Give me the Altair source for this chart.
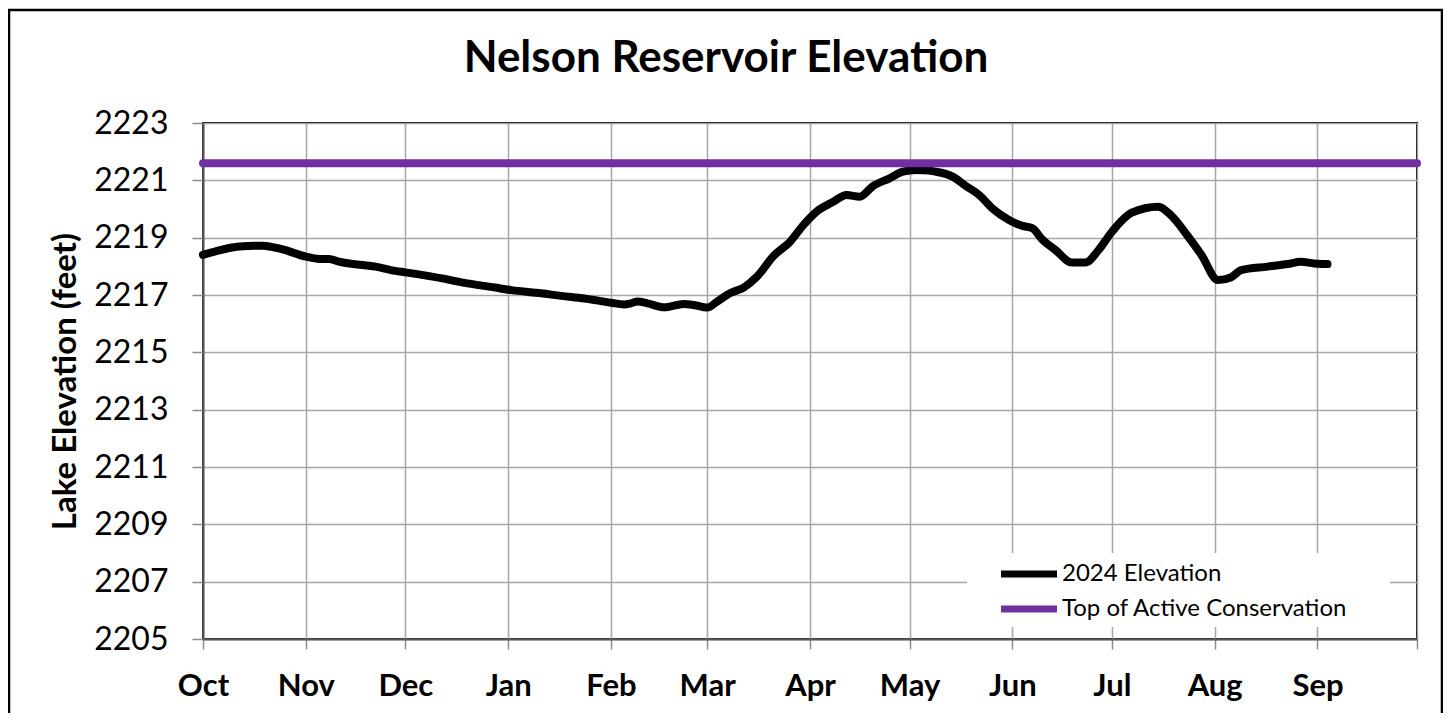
import altair as alt
import pandas as pd

# ---------------- data ----------------
title_text = "Nelson Reservoir Elevation"
y_title = "Lake Elevation (feet)"
series_names = ["2024 Elevation", "Top of Active Conservation"]
series_colors = ["#000000", "#7030A0"]

month_starts = ["2023-10-01", "2023-11-01", "2023-12-01", "2024-01-01", "2024-02-01",
                "2024-03-01", "2024-04-01", "2024-05-01", "2024-06-01", "2024-07-01",
                "2024-08-01", "2024-09-01", "2024-10-01"]
month_labels = ["Oct", "Nov", "Dec", "Jan", "Feb", "Mar", "Apr", "May", "Jun", "Jul",
                "Aug", "Sep", ""]
y_ticks = [2205, 2207, 2209, 2211, 2213, 2215, 2217, 2219, 2221, 2223]

obs_dates = ["2023-10-01", "2023-10-05", "2023-10-12", "2023-10-19", "2023-10-25",
             "2023-11-01", "2023-11-05", "2023-11-08", "2023-11-11", "2023-11-22",
             "2023-11-28", "2023-12-01", "2023-12-13", "2023-12-18", "2023-12-28",
             "2024-01-02", "2024-01-11", "2024-01-17", "2024-01-24", "2024-02-01",
             "2024-02-05", "2024-02-07", "2024-02-09", "2024-02-12", "2024-02-17",
             "2024-02-23", "2024-02-26", "2024-03-01", "2024-03-04", "2024-03-08",
             "2024-03-12", "2024-03-16", "2024-03-21", "2024-03-26", "2024-03-30",
             "2024-04-03", "2024-04-08", "2024-04-12", "2024-04-16", "2024-04-20",
             "2024-04-25", "2024-04-29", "2024-05-03", "2024-05-07", "2024-05-08",
             "2024-05-14", "2024-05-18", "2024-05-22", "2024-05-26", "2024-05-31",
             "2024-06-04", "2024-06-07", "2024-06-10", "2024-06-14", "2024-06-19",
             "2024-06-23", "2024-06-27", "2024-07-01", "2024-07-07", "2024-07-15",
             "2024-07-19", "2024-07-24", "2024-07-28", "2024-08-02", "2024-08-06",
             "2024-08-09", "2024-08-17", "2024-08-23", "2024-08-27", "2024-08-31",
             "2024-09-04"]
obs_elev = [2218.40, 2218.53, 2218.69, 2218.72, 2218.59,
            2218.34, 2218.26, 2218.26, 2218.16, 2217.99,
            2217.84, 2217.79, 2217.56, 2217.44, 2217.26,
            2217.17, 2217.06, 2216.97, 2216.88, 2216.73,
            2216.67, 2216.71, 2216.77, 2216.71, 2216.57,
            2216.69, 2216.65, 2216.56, 2216.77, 2217.07,
            2217.26, 2217.64, 2218.36, 2218.86, 2219.44,
            2219.91, 2220.25, 2220.49, 2220.43, 2220.80,
            2221.07, 2221.30, 2221.36, 2221.34, 2221.32,
            2221.13, 2220.80, 2220.49, 2220.02, 2219.62,
            2219.41, 2219.33, 2218.94, 2218.57, 2218.13,
            2218.13, 2218.57, 2219.20, 2219.87, 2220.08,
            2219.76, 2219.04, 2218.40, 2217.52, 2217.62,
            2217.87, 2217.99, 2218.08, 2218.16, 2218.10,
            2218.08]
top_conservation = 2221.6

# ---------------- build tables ----------------
start = pd.Timestamp(month_starts[0])
month_days = [int((pd.Timestamp(d) - start).days) for d in month_starts]

obs = pd.DataFrame({
    "day": [(pd.Timestamp(d) - start).days for d in obs_dates],
    "elev": obs_elev,
    "series": series_names[0],
})
cons = pd.DataFrame({
    "day": [month_days[0], month_days[-1]],
    "elev": [top_conservation, top_conservation],
    "series": series_names[1],
})
df = pd.concat([obs, cons], ignore_index=True)

label_expr = "{}[indexof({}, datum.value)]".format(
    "[" + ",".join("'" + m + "'" for m in month_labels) + "]",
    "[" + ",".join(str(d) for d in month_days) + "]",
)

FONT = "Lato"
W, H = 1214, 516

x_enc = alt.X(
    "day:Q",
    scale=alt.Scale(domain=[month_days[0], month_days[-1]], nice=False, zero=False),
    axis=alt.Axis(
        values=month_days, labelExpr=label_expr, title=None,
        labelFont=FONT, labelFontSize=31, labelFontWeight="bold", labelColor="black",
        labelPadding=22, tickSize=10, tickColor="#8c8c8c", tickWidth=1.5,
        domainColor="#595959", domainWidth=2,
        grid=True, gridColor="#a6a6a6", gridWidth=1.5,
        labelFlush=False, labelOverlap=False,
    ),
)
y_enc = alt.Y(
    "elev:Q",
    scale=alt.Scale(domain=[y_ticks[0], y_ticks[-1]], nice=False, zero=False),
    axis=alt.Axis(
        values=y_ticks, title=y_title, format="d",
        labelFont=FONT, labelFontSize=32, labelColor="black", labelPadding=24,
        tickSize=11, tickColor="#8c8c8c", tickWidth=1.5,
        domainColor="#595959", domainWidth=2,
        grid=True, gridColor="#a6a6a6", gridWidth=1.5,
        titleFont=FONT, titleFontSize=33, titleFontWeight="bold", titleColor="black",
        titlePadding=11,
    ),
)

lines = alt.Chart(df).mark_line(
    strokeWidth=8, strokeCap="round", strokeJoin="round", interpolate="monotone"
).encode(
    x=x_enc,
    y=y_enc,
    color=alt.Color(
        "series:N",
        scale=alt.Scale(domain=series_names, range=series_colors),
        legend=alt.Legend(
            title=None, orient="none", legendX=805, legendY=430,
            symbolType="M-1.6,0H1.6", symbolSize=1225, symbolStrokeWidth=7,
            labelFont=FONT, labelFontSize=24, labelColor="black", labelOffset=12,
            labelLimit=600, rowPadding=0, padding=0,
        ),
    ),
    detail="series:N",
)

legend_bg = alt.Chart(alt.Data(values=[{"k": 1}])).mark_rect(color="white").encode(
    x=alt.value(764), x2=alt.value(1187), y=alt.value(430), y2=alt.value(504)
)

frame = alt.Chart(alt.Data(values=[{"k": 1}])).mark_rect(
    fillOpacity=0, stroke="black", strokeWidth=2.5
).encode(
    x=alt.value(-194), x2=alt.value(W + 25), y=alt.value(-113), y2=alt.value(H + 200)
)

title = alt.Chart(alt.Data(values=[{"t": title_text}])).mark_text(
    font=FONT, fontSize=44, fontWeight="bold", color="black",
    align="center", baseline="alphabetic"
).encode(
    text="t:N", x=alt.value(523), y=alt.value(-51)
)

chart = alt.layer(frame, legend_bg, lines, title).properties(
    width=W, height=H,
    autosize=alt.AutoSizeParams(type="none"),
    padding={"left": 195, "top": 115, "right": 26, "bottom": 74},
).configure_view(stroke="black", strokeWidth=2)

chart.save("out.html", embed_options={"renderer": "svg", "actions": False})
